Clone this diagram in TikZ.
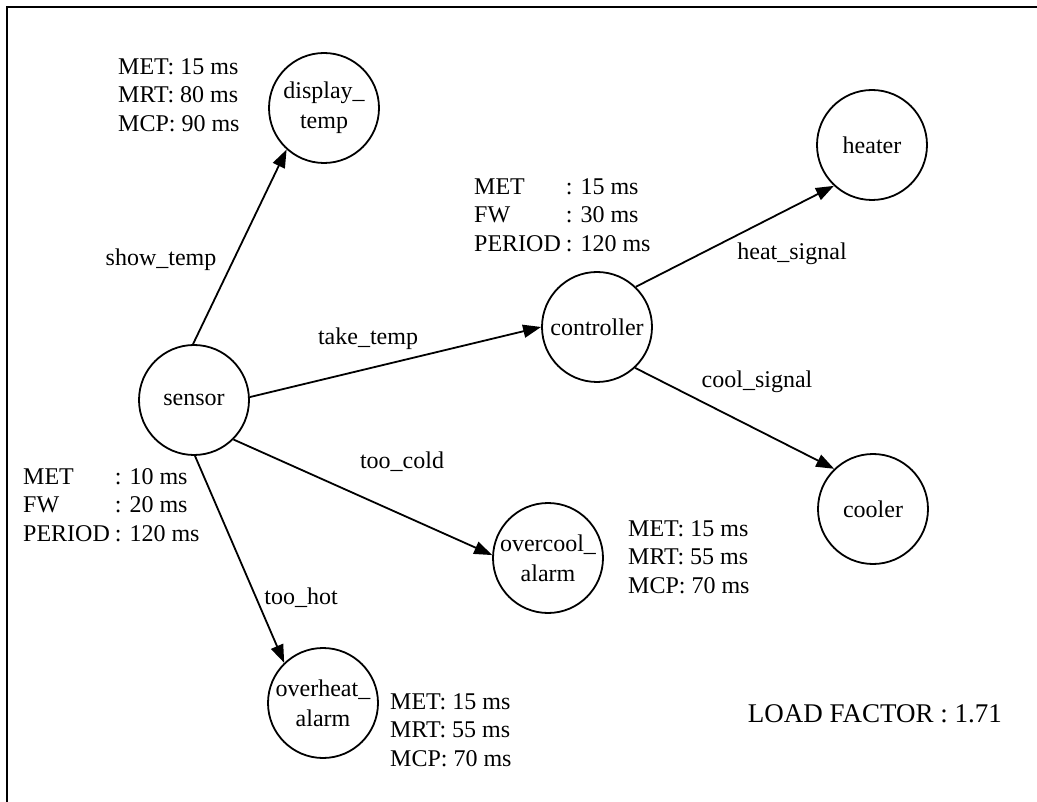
\documentclass[tikz,border=0pt]{standalone}
\usepackage{fontspec}
\setmainfont{Liberation Serif}
\usetikzlibrary{arrows.meta}
\begin{document}
\begin{tikzpicture}[x=1pt,y=-1pt,
  proc/.style={circle,draw,line width=1.8pt,minimum size=110pt,inner sep=0pt,align=center,font=\fontsize{24}{30}\selectfont},
  lbl/.style={font=\fontsize{24}{29}\selectfont,inner sep=0pt},
  info/.style={font=\fontsize{24}{28.5}\selectfont,inner sep=0pt,anchor=west,align=left},
  flow/.style={line width=1.8pt,-{Triangle[length=18pt,width=13pt]}}]
\useasboundingbox (0,0) rectangle (1037,802);
\coordinate (ftr) at (1037,7);
\coordinate (fc) at (7,7);
\coordinate (fbl) at (7,802);
\draw[line width=2.2pt] (ftr) -- (fc) -- (fbl);

\node[proc] (display) at (324,108) {display\_\\temp};
\node[proc] (sensor) at (194,400) {sensor};
\node[proc] (controller) at (597,327) {controller};
\node[proc] (heater) at (872,145) {heater};
\node[proc] (cooler) at (873,509) {cooler};
\node[proc] (overcool) at (548,558) {overcool\_\\alarm};
\node[proc] (overheat) at (323,703) {overheat\_\\alarm};

\draw[flow] (sensor.91) -- (display.228);
\draw[flow] (sensor.3) -- (controller.180);
\draw[flow] (controller.46) -- (heater.227);
\draw[flow] (controller.313) -- (cooler.134);
\draw[flow] (sensor.315) -- (overcool.177);
\draw[flow] (sensor.271) -- (overheat.134);

\node[lbl] (l1) at (161,260) {show\_temp};
\node[lbl] (l2) at (368,339) {take\_temp};
\node[lbl] (l3) at (792,254) {heat\_signal};
\node[lbl] (l4) at (757,382) {cool\_signal};
\node[lbl] (l5) at (402,462) {too\_cold};
\node[lbl] (l6) at (301,598) {too\_hot};

\node[info] (i1) at (118,95) {MET: 15 ms\\MRT: 80 ms\\MCP: 90 ms};
\node[info] (i2) at (23,507) {\begin{tabular}{@{}l@{\hspace{5pt}}l@{}}MET & : 10 ms\\ FW & : 20 ms\\ PERIOD & : 120 ms\end{tabular}};
\node[info] (i3) at (474,217) {\begin{tabular}{@{}l@{\hspace{5pt}}l@{}}MET & : 15 ms\\ FW & : 30 ms\\ PERIOD & : 120 ms\end{tabular}};
\node[info] (i4) at (628,557) {MET: 15 ms\\MRT: 55 ms\\MCP: 70 ms};
\node[info] (i5) at (390,730) {MET: 15 ms\\MRT: 55 ms\\MCP: 70 ms};
\node[font=\fontsize{27}{32}\selectfont,inner sep=0pt,anchor=east] (load) at (1002,714) {LOAD FACTOR : 1.71};
\end{tikzpicture}
\end{document}
